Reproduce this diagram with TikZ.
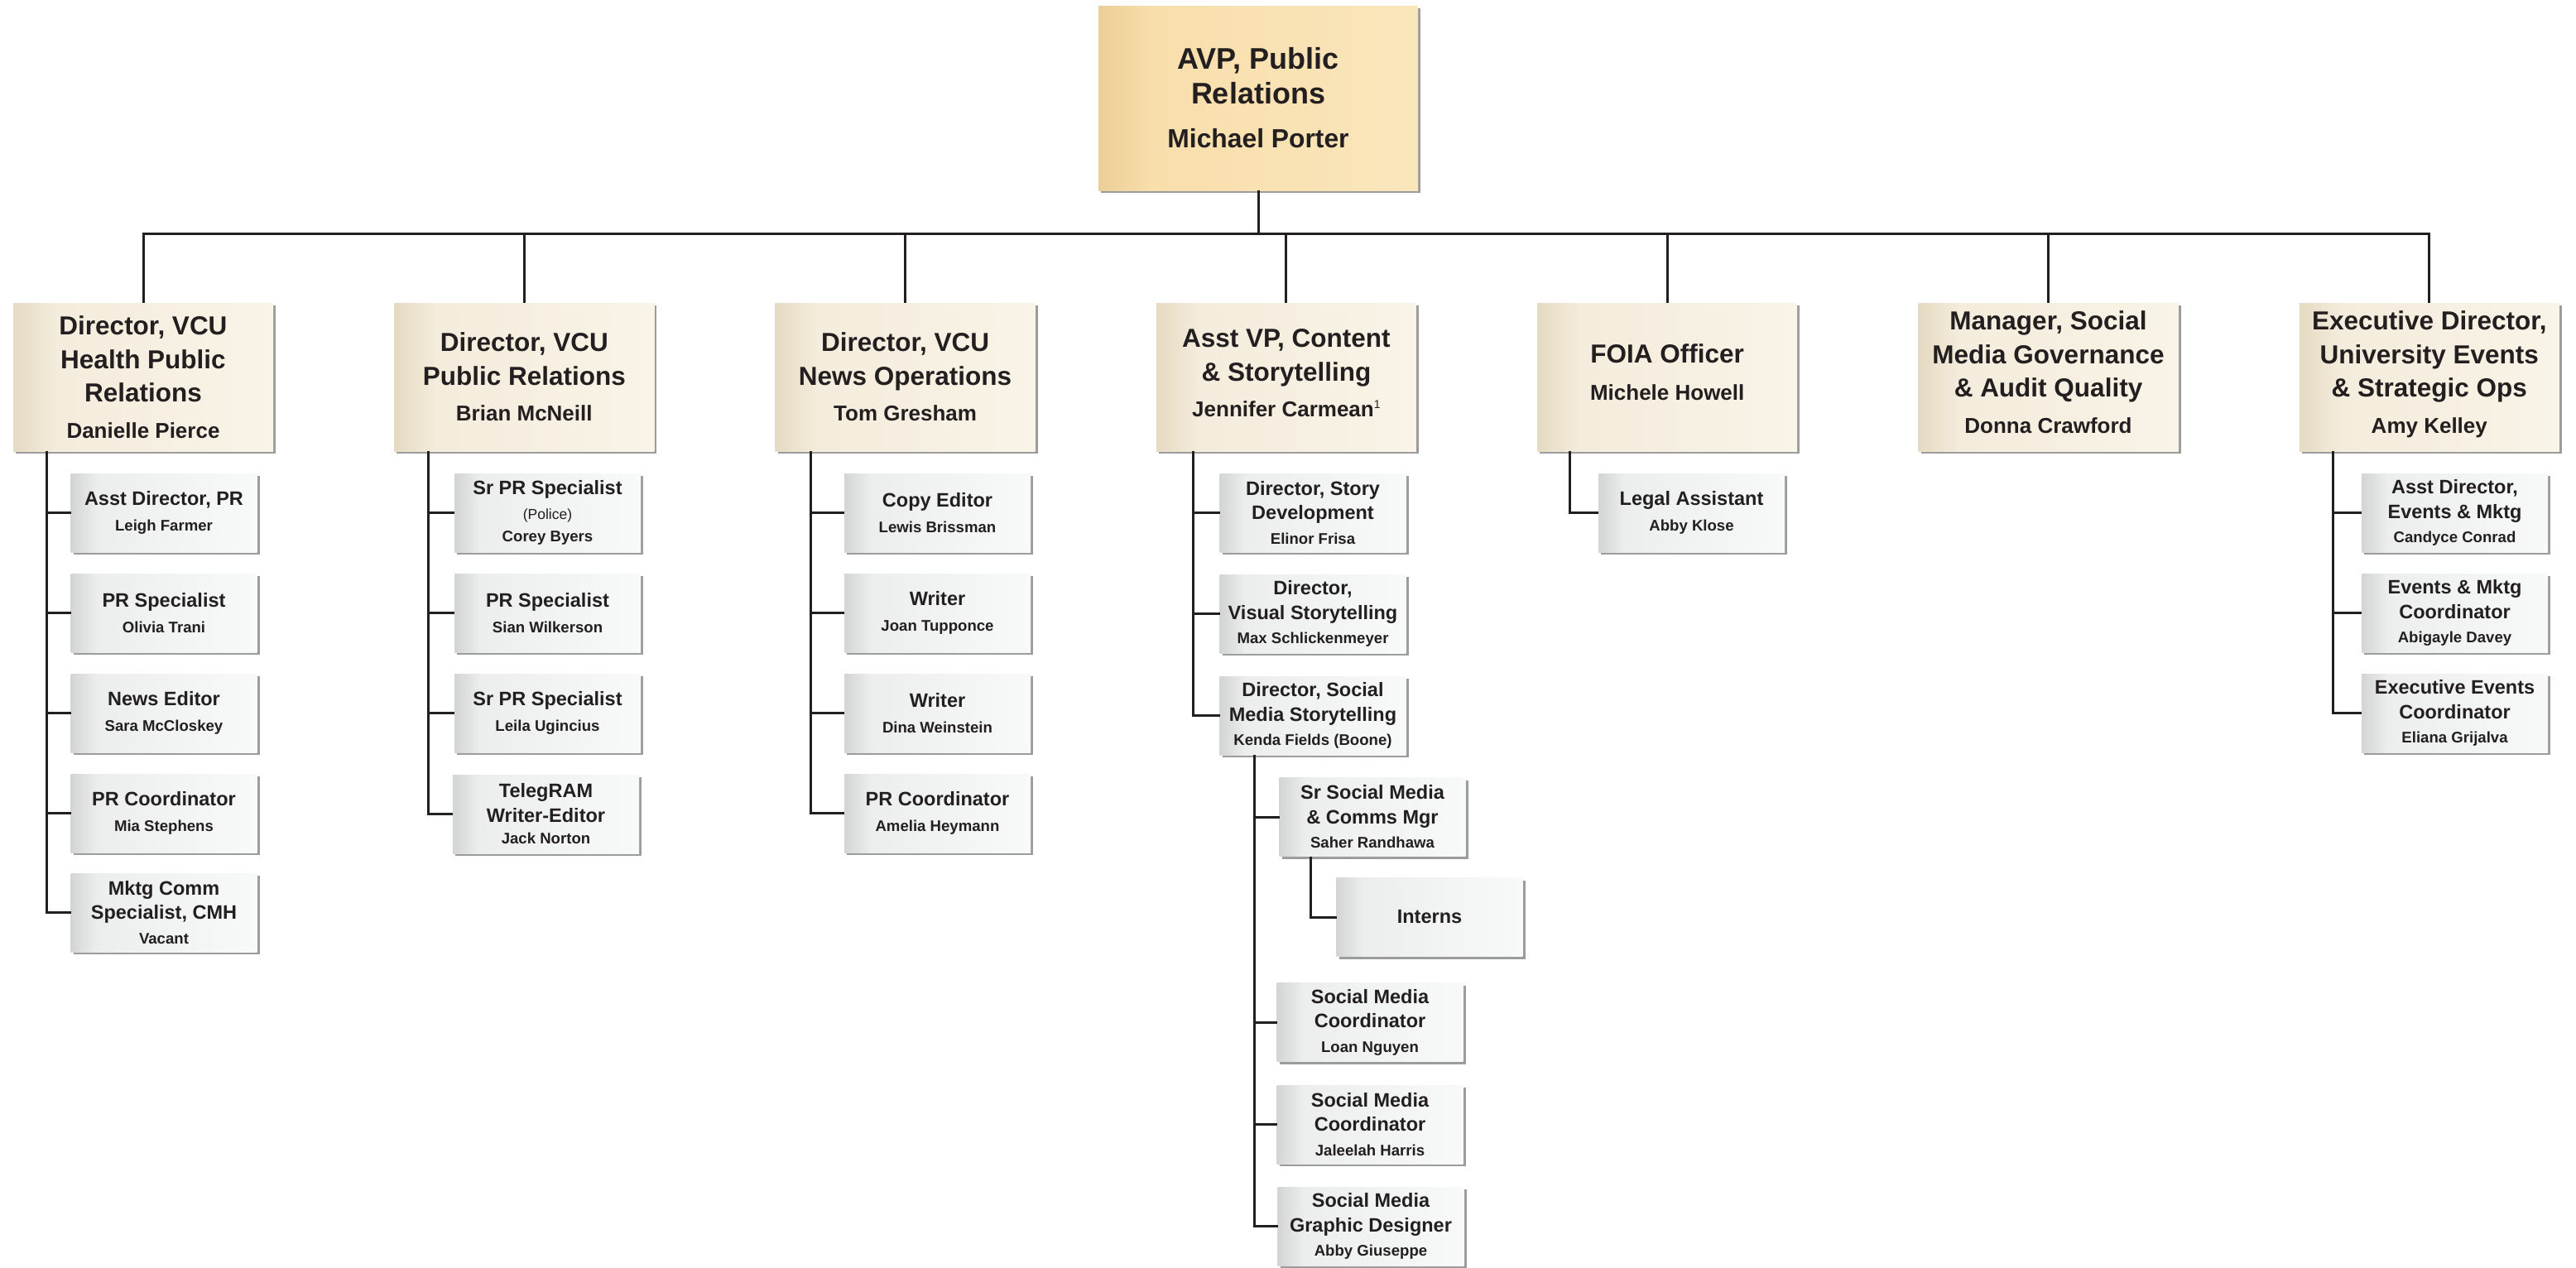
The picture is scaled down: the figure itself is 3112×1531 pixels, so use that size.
\documentclass[tikz,border=0pt]{standalone}
\usepackage{fontspec}
\setmainfont{Liberation Sans}
\usetikzlibrary{shadows}
\definecolor{txtc}{HTML}{231F20}
\definecolor{linec}{HTML}{231F20}
\definecolor{shadowc}{HTML}{9C9C9C}
\definecolor{rootL}{HTML}{EBCE97}
\definecolor{rootM}{HTML}{F8DEAB}
\definecolor{rootR}{HTML}{FAE6BC}
\definecolor{dirL}{HTML}{E5DAC2}
\definecolor{dirM}{HTML}{F4ECDC}
\definecolor{dirR}{HTML}{F9F4E8}
\definecolor{subL}{HTML}{D3D5D5}
\definecolor{subM}{HTML}{ECEEED}
\definecolor{subR}{HTML}{F8F9F9}
\pgfdeclarehorizontalshading{rootshade}{100bp}{color(0bp)=(rootL); color(25bp)=(rootL); color(33bp)=(rootM); color(75bp)=(rootR); color(100bp)=(rootR)}
\pgfdeclarehorizontalshading{dirshade}{100bp}{color(0bp)=(dirL); color(25bp)=(dirL); color(33bp)=(dirM); color(75bp)=(dirR); color(100bp)=(dirR)}
\pgfdeclarehorizontalshading{subshade}{100bp}{color(0bp)=(subL); color(25bp)=(subL); color(32bp)=(subM); color(75bp)=(subR); color(100bp)=(subR)}
\newcommand\NmRoot{\fontsize{31.8}{38}\selectfont}
\newcommand\NmDir{\fontsize{26}{31}\selectfont}
\newcommand\NmSub{\fontsize{18.6}{22}\selectfont}
\newcommand\PoliceTxt{\mdseries\fontsize{17.5}{20}\selectfont}
\begin{document}
\begin{tikzpicture}[x=1pt,y=-1pt,
  orgbox/.style={inner sep=0pt, outer sep=0pt, align=center, text=txtc,
    general shadow={shadow xshift=3pt,shadow yshift=-3pt,fill=shadowc}},
  rootbox/.style={orgbox, shade, shading=rootshade, minimum width=386pt, minimum height=223pt,
    font=\bfseries\fontsize{36}{42}\selectfont},
  dirbox/.style={orgbox, shade, shading=dirshade, minimum width=314pt, minimum height=179pt,
    font=\bfseries\fontsize{31.5}{40.5}\selectfont},
  subbox/.style={orgbox, shade, shading=subshade, minimum width=225pt, minimum height=95pt,
    font=\bfseries\fontsize{23.5}{29.5}\selectfont},
  conn/.style={line width=3pt, draw=linec}]
\fill[white] (0,0) rectangle (3112,1531);
\useasboundingbox (0,0) rectangle (3112,1531);

% root
\node[rootbox] (root) at (1520,118.5) {AVP, Public\\Relations\\[11pt]{\NmRoot Michael Porter}};

% directors
\node[dirbox] (d1) at (173,455.5) {Director, VCU\\Health Public\\Relations\\[3pt]{\NmDir Danielle Pierce}};
\node[dirbox] (d2) at (633.3,455.5) {Director, VCU\\Public Relations\\[3pt]{\NmDir Brian McNeill}};
\node[dirbox] (d3) at (1093.6,455.5) {Director, VCU\\News Operations\\[3pt]{\NmDir Tom Gresham}};
\node[dirbox, text depth=10pt] (d4) at (1553.9,455.5) {Asst VP, Content\\\& Storytelling\\[3pt]{\NmDir Jennifer Carmean\raisebox{10pt}{\mdseries\fontsize{14}{14}\selectfont 1}}};
\node[dirbox, text depth=12pt] (d5) at (2014.2,455.5) {FOIA Officer\\[4pt]{\NmDir Michele Howell}};
\node[dirbox, text depth=12pt] (d6) at (2474.5,455.5) {Manager, Social\\Media Governance\\\& Audit Quality\\[3pt]{\NmDir Donna Crawford}};
\node[dirbox, text depth=11.5pt] (d7) at (2934.8,455.5) {Executive Director,\\University Events\\\& Strategic Ops\\[3pt]{\NmDir Amy Kelley}};

% column 1
\node[subbox] (s11) at (198,619.5) {Asst Director, PR\\[2pt]{\NmSub Leigh Farmer}};
\node[subbox] (s12) at (198,740.5) {PR Specialist\\[2pt]{\NmSub Olivia Trani}};
\node[subbox] (s13) at (198,861.5) {News Editor\\[2pt]{\NmSub Sara McCloskey}};
\node[subbox] (s14) at (198,982.5) {PR Coordinator\\[2pt]{\NmSub Mia Stephens}};
\node[subbox] (s15) at (198,1102.5) {Mktg Comm\\Specialist, CMH\\{\NmSub Vacant}};

% column 2
\node[subbox] (s21) at (661.5,619.5) {Sr PR Specialist\\[0pt]{\PoliceTxt (Police)}\\[-2pt]{\NmSub Corey Byers}};
\node[subbox] (s22) at (661.5,740.5) {PR Specialist\\[2pt]{\NmSub Sian Wilkerson}};
\node[subbox] (s23) at (661.5,861.5) {Sr PR Specialist\\[2pt]{\NmSub Leila Ugincius}};
\node[subbox] (s24) at (659.5,983.5) {TelegRAM\\Writer-Editor\\[-3pt]{\NmSub Jack Norton}};

% column 3
\node[subbox] (s31) at (1132.5,619.5) {Copy Editor\\[2pt]{\NmSub Lewis Brissman}};
\node[subbox] (s32) at (1132.5,740.5) {Writer\\[2pt]{\NmSub Joan Tupponce}};
\node[subbox] (s33) at (1132.5,861.5) {Writer\\[2pt]{\NmSub Dina Weinstein}};
\node[subbox] (s34) at (1132.5,982.5) {PR Coordinator\\[2pt]{\NmSub Amelia Heymann}};

% column 4
\node[subbox] (s41) at (1586,619.5) {Director, Story\\Development\\{\NmSub Elinor Frisa}};
\node[subbox] (s42) at (1586,741.5) {Director,\\Visual Storytelling\\{\NmSub Max Schlickenmeyer}};
\node[subbox] (s43) at (1586,864.5) {Director, Social\\Media Storytelling\\{\NmSub Kenda Fields (Boone)}};
\node[subbox] (s44) at (1658,987) {Sr Social Media\\\& Comms Mgr\\{\NmSub Saher Randhawa}};
\node[subbox] (s45) at (1727,1108) {Interns};
\node[subbox] (s46) at (1655,1235) {Social Media\\Coordinator\\{\NmSub Loan Nguyen}};
\node[subbox] (s47) at (1655,1358.5) {Social Media\\Coordinator\\{\NmSub Jaleelah Harris}};
\node[subbox] (s48) at (1656,1481.5) {Social Media\\Graphic Designer\\{\NmSub Abby Giuseppe}};

% column 5
\node[subbox] (s51) at (2043.5,619.5) {Legal Assistant\\[2pt]{\NmSub Abby Klose}};

% column 7
\node[subbox] (s71) at (2965.5,619.5) {Asst Director,\\Events \& Mktg\\{\NmSub Candyce Conrad}};
\node[subbox] (s72) at (2965.5,740.5) {Events \& Mktg\\Coordinator\\{\NmSub Abigayle Davey}};
\node[subbox] (s73) at (2965.5,861.5) {Executive Events\\Coordinator\\{\NmSub Eliana Grijalva}};

% top level connectors
\coordinate (bus) at (0,282);
\draw[conn] (d1.north) -- (d1.north |- bus) -- (d7.north |- bus) -- (d7.north);
\draw[conn] (root.south) -- (root.south |- bus);
\foreach \i in {2,...,6} \draw[conn] (d\i.north) -- (d\i.north |- bus);

% column connectors
\coordinate (v1) at (56,0);
\draw[conn] (v1 |- d1.south) |- (s15.west);
\foreach \j in {1,...,4} \draw[conn] (v1 |- s1\j.west) -- (s1\j.west);

\coordinate (v2) at (517,0);
\draw[conn] (v2 |- d2.south) |- (s24.west);
\foreach \j in {1,...,3} \draw[conn] (v2 |- s2\j.west) -- (s2\j.west);

\coordinate (v3) at (979,0);
\draw[conn] (v3 |- d3.south) |- (s34.west);
\foreach \j in {1,...,3} \draw[conn] (v3 |- s3\j.west) -- (s3\j.west);

\coordinate (v4) at (1441,0);
\draw[conn] (v4 |- d4.south) |- (s43.west);
\foreach \j in {1,2} \draw[conn] (v4 |- s4\j.west) -- (s4\j.west);

\coordinate (v4b) at (1515,0);
\draw[conn] (v4b |- s43.south) |- (s48.west);
\foreach \j in {4,6,7} \draw[conn] (v4b |- s4\j.west) -- (s4\j.west);

\coordinate (v4c) at (1583,0);
\draw[conn] (v4c |- s44.south) |- (s45.west);

\coordinate (v5) at (1896,0);
\draw[conn] (v5 |- d5.south) |- (s51.west);

\coordinate (v7) at (2818,0);
\draw[conn] (v7 |- d7.south) |- (s73.west);
\foreach \j in {1,2} \draw[conn] (v7 |- s7\j.west) -- (s7\j.west);
\end{tikzpicture}
\end{document}
